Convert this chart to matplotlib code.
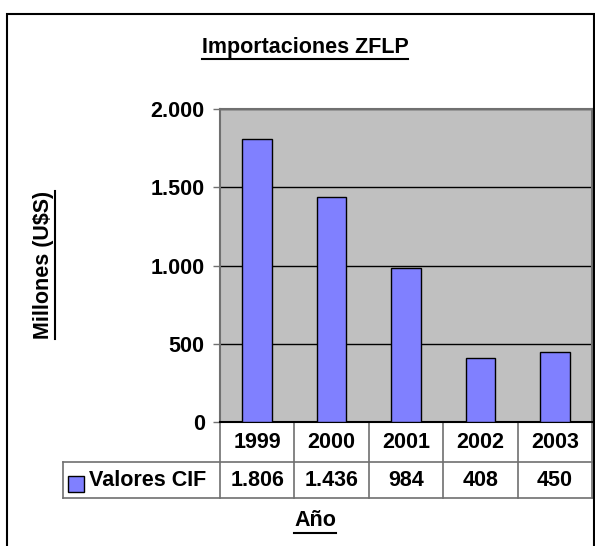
import matplotlib
matplotlib.use("Agg")
import matplotlib.pyplot as plt
from matplotlib.lines import Line2D
from matplotlib.patches import Rectangle
from matplotlib.transforms import blended_transform_factory

# Data
years = ["1999", "2000", "2001", "2002", "2003"]
valores_cif = [1806, 1436, 984, 408, 450]
valores_labels = ["1.806", "1.436", "984", "408", "450"]
yticks = [0, 500, 1000, 1500, 2000]
ytick_labels = ["0", "500", "1.000", "1.500", "2.000"]

title = "Importaciones ZFLP"
ylabel = "Millones (U$S)"
xlabel = "Año"
series_name = "Valores CIF"

plt.rcParams["font.family"] = ["Liberation Sans", "DejaVu Sans"]
plt.rcParams["font.weight"] = "bold"
FS = 15.5
BAR_COLOR = "#8080FF"
LINE_GRAY = "#707070"

W, H = 595, 546
fig = plt.figure(figsize=(W / 100, H / 100), dpi=100)

# outer chart border
fig.add_artist(Rectangle((7 / W, -0.05), (594 - 7) / W, 1.05 - 14 / H,
                         transform=fig.transFigure, fill=False,
                         edgecolor="black", linewidth=1.5))

px_l, px_r, px_t, px_b = 220, 592, 109, 422
ax = fig.add_axes([px_l / W, 1 - px_b / H, (px_r - px_l) / W, (px_b - px_t) / H])
ax.set_facecolor("#C0C0C0")
ax.bar(range(len(years)), valores_cif, width=0.4, color=BAR_COLOR,
       edgecolor="black", linewidth=1, zorder=3)
ax.set_xlim(-0.5, len(years) - 0.5)
ax.set_ylim(0, 2000)
ax.set_yticks(yticks)
ax.set_yticklabels(ytick_labels, fontsize=FS, fontweight="bold")
ax.set_xticks([])
ax.yaxis.grid(True, color="black", linewidth=1, zorder=1)
ax.set_axisbelow(True)
ax.tick_params(axis="y", length=5, width=1, pad=6, color=LINE_GRAY)
for side, sp in ax.spines.items():
    sp.set_color(LINE_GRAY)
    sp.set_linewidth(1.5)
ax.spines["bottom"].set_color("black")

# data table below the plot
ph = px_b - px_t
row1 = 40 / ph
row2 = 76 / ph
leg_left = (63 - px_l) / (px_r - px_l)
trans = blended_transform_factory(ax.transData, ax.transAxes)

for i, (yr, lab) in enumerate(zip(years, valores_labels)):
    ax.text(i, -row1 / 2, yr, transform=trans, ha="center", va="center",
            fontsize=FS, fontweight="bold")
    ax.text(i, -(row1 + row2) / 2, lab, transform=trans, ha="center",
            va="center", fontsize=FS, fontweight="bold")

for k in range(len(years) + 1):
    ax.plot([k - 0.5, k - 0.5], [0, -row2], transform=trans, clip_on=False,
            color=LINE_GRAY, linewidth=1.2)
for yy in (-row1, -row2):
    ax.plot([leg_left, 1], [yy, yy], transform=ax.transAxes, clip_on=False,
            color=LINE_GRAY, linewidth=1.2)
ax.plot([leg_left, leg_left], [-row1, -row2], transform=ax.transAxes,
        clip_on=False, color=LINE_GRAY, linewidth=1.2)

sw_x0 = (68 - px_l) / (px_r - px_l)
sw_w = 16 / (px_r - px_l)
sw_y0 = -(492 - px_b) / ph
sw_h = 16 / ph
ax.add_patch(Rectangle((sw_x0, sw_y0), sw_w, sw_h, transform=ax.transAxes,
                       facecolor=BAR_COLOR, edgecolor="black", linewidth=1,
                       clip_on=False))
ax.text((89 - px_l) / (px_r - px_l), -(row1 + row2) / 2, series_name,
        transform=ax.transAxes, ha="left", va="center", fontsize=FS,
        fontweight="bold")

# titles
t_title = fig.text(305 / W, 1 - 48 / H, title, ha="center", va="center",
                   fontsize=FS, fontweight="bold")
t_x = fig.text(315 / W, 1 - 521 / H, xlabel, ha="center", va="center",
               fontsize=FS, fontweight="bold")
t_y = fig.text(44 / W, 1 - 265 / H, ylabel, ha="center", va="center",
               rotation=90, fontsize=FS, fontweight="bold")

# underline the titles (Excel style)
fig.canvas.draw()
inv = fig.transFigure.inverted()


def underline(t, vertical=False):
    bb = t.get_window_extent()
    if vertical:
        pts = [(bb.x1, bb.y0), (bb.x1, bb.y1)]
    else:
        pts = [(bb.x0, bb.y0 - 1), (bb.x1, bb.y0 - 1)]
    (x0, y0), (x1, y1) = inv.transform(pts)
    fig.add_artist(Line2D([x0, x1], [y0, y1], transform=fig.transFigure,
                          color="black", linewidth=1.5))


underline(t_title)
underline(t_x)
underline(t_y, vertical=True)

fig.savefig("out.png", dpi=100)
